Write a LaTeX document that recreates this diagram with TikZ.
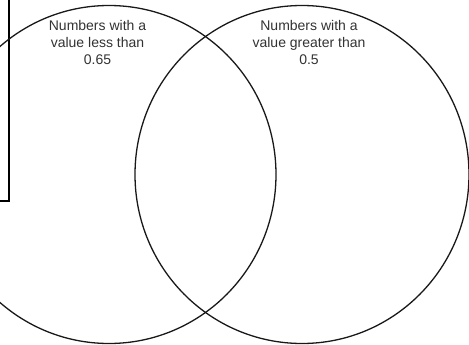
\documentclass[tikz,border=0pt]{standalone}
\usepackage{fontspec}
\setmainfont{Liberation Sans}
\usetikzlibrary{shapes.geometric}
\begin{document}
\begin{tikzpicture}[x=1pt,y=-1pt,
  setcircle/.style={ellipse, draw=black!90, line width=1.3pt, minimum width=334pt, minimum height=338pt, inner sep=0pt},
  setlabel/.style={align=center, inner sep=0pt, anchor=north, text=black!80, font=\fontsize{14}{16.7}\selectfont},
  framebox/.style={draw=black, line width=2pt}]
\clip (0,0) rectangle (469,345);
\fill[white] (0,0) rectangle (469,345);
\node[framebox, minimum width=30pt, minimum height=220pt, inner sep=0pt, anchor=south east] (frame) at (9.7,202) {};
\node[setcircle] (left) at (109,174.5) {};
\node[setcircle] (right) at (302,174.5) {};
\node[setlabel] (ltext) at (97.5,20.5) {Numbers with a\\value less than\\0.65};
\node[setlabel] (rtext) at (309,20.5) {Numbers with a\\value greater than\\0.5};
\end{tikzpicture}
\end{document}
